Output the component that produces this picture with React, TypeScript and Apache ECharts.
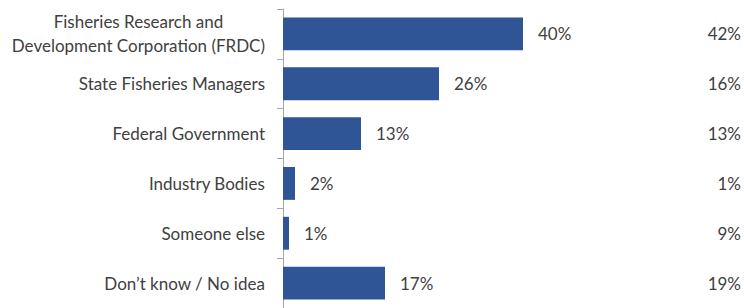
import React, { useEffect, useRef } from "react";
import * as echarts from "echarts";

const categories = [
  "Fisheries Research and\nDevelopment Corporation (FRDC)",
  "State Fisheries Managers",
  "Federal Government",
  "Industry Bodies",
  "Someone else",
  "Don\u2019t know / No idea",
];
const values = [40, 26, 13, 2, 1, 17];
const rightValues = ["42%", "16%", "13%", "1%", "9%", "19%"];

const FONT = "Lato, sans-serif";
const FS = 17;
const TEXT = "#404040";

export default function App() {
  const ref = useRef<HTMLDivElement>(null);
  useEffect(() => {
    const chart = echarts.init(ref.current!, null, { renderer: "svg" });
    const cats = [...categories].reverse();
    const vals = [...values].reverse();
    const rights = [...rightValues].reverse();
    chart.setOption({
      animation: false,
      grid: { left: 283, right: 41, top: 9, bottom: -3, containLabel: false },
      xAxis: {
        type: "value",
        min: 0,
        max: 70,
        show: false,
      },
      yAxis: [
        {
          type: "category",
          data: cats,
          axisLine: { show: true, lineStyle: { color: "#A6A6A6", width: 1 } },
          axisTick: { show: true, length: 6, lineStyle: { color: "#A6A6A6" } },
          axisLabel: {
            margin: 18,
            fontFamily: FONT,
            fontSize: FS,
            color: TEXT,
            formatter: (v: string) =>
              v
                .split("\n")
                .map((l) => "{c|" + l + "}")
                .join("\n"),
            rich: {
              c: {
                align: "center",
                fontFamily: FONT,
                fontSize: FS,
                color: TEXT,
                lineHeight: 24,
              },
            },
          },
          splitLine: { show: false },
        },
        {
          type: "category",
          position: "right",
          data: rights,
          axisLine: { show: false },
          axisTick: { show: false },
          axisLabel: {
            margin: 38,
            align: "right",
            fontFamily: FONT,
            fontSize: FS,
            color: TEXT,
          },
        },
      ],
      series: [
        {
          type: "bar",
          data: vals,
          barCategoryGap: "34%",
          itemStyle: { color: "#2F5597" },
          label: {
            show: true,
            position: "right",
            distance: 15,
            formatter: "{c}%",
            fontFamily: FONT,
            fontSize: FS,
            color: TEXT,
          },
        },
      ],
    });
    return () => chart.dispose();
  }, []);
  return <div ref={ref} style={{ width: 744, height: 308, position: "absolute", left: 0, top: 0 }} />;
}
